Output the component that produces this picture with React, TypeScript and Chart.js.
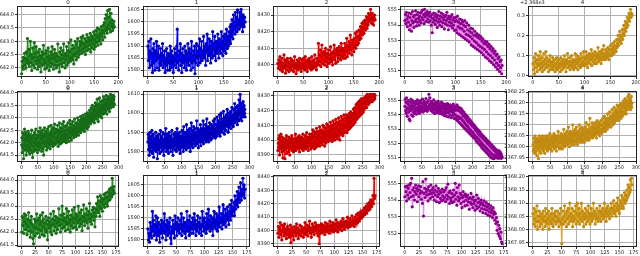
import React, { useEffect, useRef } from 'react';
import { Chart, registerables } from 'chart.js';
Chart.register(...registerables);

// ---------- tick labels ----------
const titles = ['0', '1', '2', '3', '4'];
const xTicksRow0 = [0, 50, 100, 150, 200];
const xTicksRow1 = [0, 50, 100, 150, 200, 250, 300];
const xTicksRow2 = [0, 25, 50, 75, 100, 125, 150, 175];

const yTicksGreenA = [642, 642.5, 643, 643.5, 644];
const yTicksGreenB = [641.5, 642, 642.5, 643, 643.5, 644];
const yTicksBlueA = [1580, 1585, 1590, 1595, 1600, 1605];
const yTicksBlueB = [1580, 1590, 1600, 1610];
const yTicksRedA = [8400, 8410, 8420, 8430];
const yTicksRedB = [8390, 8400, 8410, 8420, 8430];
const yTicksRedC = [8390, 8400, 8410, 8420, 8430, 8440];
const yTicksMagA = [551, 552, 553, 554, 555];
const yTicksMagC = [552, 553, 554, 555];
const yTicksGoldA = [2368.0, 2368.1, 2368.2, 2368.3];
const yTicksGoldB = [2367.95, 2368.0, 2368.05, 2368.1, 2368.15, 2368.2, 2368.25];
const goldOffsetText = '+2.368e3';
const goldOffset = 2368;

// ---------- series values (row 0) ----------
const r0c0 = [
641.78,642.25,642.05,642.4,641.95,642.3,642.55,642.1,642.35,642.0,
642.6,642.2,643.1,642.3,642.15,642.7,642.05,642.45,643.0,642.2,
642.5,641.9,642.35,642.75,642.1,642.4,642.95,642.0,642.55,642.25,
642.8,642.15,642.4,641.95,642.6,642.3,642.05,642.7,642.2,642.45,
641.85,642.35,642.6,642.1,642.5,642.85,642.15,642.3,641.95,642.55,
642.2,642.65,642.0,642.4,642.1,642.75,642.3,641.9,642.45,642.2,
642.6,642.05,642.35,642.8,642.15,642.5,641.95,642.4,642.7,642.1,
642.3,642.55,642.0,642.45,642.25,642.9,642.1,642.4,641.85,642.6,
642.3,642.75,642.15,642.5,642.05,642.65,642.35,642.9,642.2,642.45,
642.0,642.55,642.3,642.8,642.1,642.45,642.65,642.2,642.95,642.35,
642.6,642.25,643.05,642.4,642.7,642.3,642.85,642.5,642.15,642.75,
642.45,643.0,642.55,642.3,642.9,642.6,643.1,642.4,642.75,642.5,
643.0,642.65,642.85,643.15,642.55,642.95,642.7,643.2,642.6,642.9,
642.75,643.1,642.5,643.0,642.8,643.25,642.65,642.95,643.15,642.7,
643.05,642.85,643.3,642.6,643.0,643.2,642.75,643.1,642.9,643.35,
642.7,643.05,643.25,642.8,643.4,642.95,643.15,643.5,642.85,643.2,
643.0,643.45,643.1,643.3,642.9,643.55,643.2,643.4,643.05,643.6,
643.3,643.7,643.15,643.85,643.4,644.0,643.5,643.3,644.15,643.6,
643.9,643.45,644.2,643.7,643.35,644.05,643.55,643.8,643.4,643.65,
643.5,643.75,643.55];

const r0c1 = [
1590,1584,1592,1581,1588,1585,1593,1582,1587,1579,
1589,1583,1591,1586,1580,1588,1584,1592,1581,1587,
1585,1590,1580,1586,1583,1589,1582,1587,1584,1591,
1581,1586,1583,1588,1579,1585,1582,1589,1584,1580,
1587,1583,1586,1580,1590,1584,1581,1588,1583,1586,
1579,1585,1582,1589,1584,1587,1581,1590,1597,1583,
1586,1580,1588,1584,1591,1582,1587,1579,1585,1589,
1583,1586,1581,1590,1584,1588,1580,1587,1583,1591,
1585,1582,1589,1584,1587,1580,1592,1583,1586,1581,
1588,1584,1590,1578.5,1586,1583,1591,1585,1588,1582,
1590,1586,1593,1583,1589,1585,1592,1584,1588,1586,
1594,1585,1590,1587,1582,1591,1588,1595,1584,1589,
1586,1593,1587,1590,1583,1592,1588,1585,1596,1589,
1591,1586,1594,1588,1584,1592,1589,1587,1595,1590,
1585,1593,1588,1591,1587,1596,1589,1592,1586,1594,
1590,1588,1595,1591,1587,1597,1592,1589,1594,1590,
1596,1592,1598,1591,1599,1594,1601,1596,1593,1603,
1597,1600,1595,1604,1598,1602,1596,1605,1599,1601,
1597,1604,1600,1598,1605.3,1599,1602,1596,1603,1600,
1598,1602,1600];

const r0c2 = [
8401,8398,8403,8400,8405,8397,8402,8399,8404,8396,
8401,8398,8406,8399,8403,8395,8400,8402,8397,8404,
8399,8402,8396,8401,8398,8404,8400,8397,8403,8399,
8402,8396,8400,8405,8398,8401,8394.7,8399,8403,8400,
8397,8402,8399,8404,8398,8401,8396,8403,8400,8398,
8404,8399,8401,8397,8405,8400,8398,8402,8396,8403,
8399,8401,8404,8398,8402,8400,8397,8405,8399,8402,
8398,8403,8400,8406,8399,8401,8397,8404,8400,8402,
8413,8400,8406,8402,8409,8399,8405,8412,8401,8407,
8403,8408,8400,8406,8410,8402,8405,8399,8407,8404,
8409,8401,8406,8403,8411,8402,8407,8404,8400,8408,
8405,8412,8403,8407,8401,8409,8406,8410,8402,8408,
8404,8411,8406,8409,8403,8413,8405,8408,8410,8404,
8409,8406,8413,8404,8411,8408,8416,8405,8412,8409,
8414,8407,8411,8418,8409,8413,8406,8415,8410,8412,
8408,8416,8411,8419,8410,8414,8420,8412,8417,8413,
8421,8415,8418,8423,8416,8420,8425,8418,8422,8426,
8419,8424,8427,8421,8425,8429,8422,8428,8424,8431,
8426,8430,8427,8433.5,8428,8425,8431,8427,8429,8424,
8428,8430,8427];

const r0c3 = [
554.3,554.7,554.1,554.85,554.4,553.9,554.6,554.2,554.8,553.7,
554.5,554.0,554.75,553.6,554.3,554.9,554.15,554.55,553.85,554.65,
554.25,554.95,554.4,553.95,554.7,554.2,554.85,554.45,554.0,554.6,
554.3,554.8,554.15,554.9,554.5,555.0,554.35,554.7,554.1,555.05,
554.55,554.8,554.25,554.65,554.9,554.4,554.75,554.2,554.6,554.85,
554.3,554.55,554.0,554.7,553.5,554.45,554.2,554.8,554.35,554.6,
554.05,554.75,554.3,554.5,553.85,554.65,554.2,554.9,554.4,554.0,
554.6,554.25,554.8,553.9,554.5,554.15,554.7,554.35,553.75,554.55,
554.1,554.65,554.3,554.85,554.0,554.45,553.7,554.6,554.2,554.4,
553.95,554.55,554.15,554.7,553.8,554.35,554.0,554.5,553.65,554.25,
554.5,553.7,554.3,553.5,554.6,553.9,554.2,553.4,554.4,553.8,
554.1,553.3,554.35,553.75,554.2,553.2,554.0,553.6,554.3,553.1,
553.9,553.4,554.15,553.0,553.7,553.35,554.0,552.9,553.6,553.25,
553.8,552.7,553.5,553.1,553.75,552.6,553.35,552.95,553.6,552.5,
553.3,552.85,553.45,552.4,553.2,552.7,553.35,552.3,553.1,552.6,
553.25,552.2,552.95,552.5,553.1,552.05,552.8,552.4,552.95,551.9,
552.75,552.25,552.9,551.8,552.6,552.1,552.75,551.65,552.45,552.0,
552.6,551.55,552.3,551.85,552.45,551.4,552.15,551.7,552.3,551.25,
552.0,551.5,552.1,551.1,551.8,551.35,551.9,550.95,551.6,551.2,
551.7,550.8,551.35];

const r0c4 = [
2368.06,2368.03,2368.09,2368.01,2368.07,2368.11,2368.04,2368.08,2368.02,2368.06,
2368.1,2368.05,2368.08,2368.03,2368.12,2368.06,2368.04,2368.09,2368.02,2368.07,
2368.05,2368.11,2368.03,2368.08,2368.06,2368.12,2368.04,2368.09,2368.05,2368.07,
2368.02,2368.08,2368.05,2368.1,2368.03,2368.07,2368.06,2368.04,2368.09,2368.03,
2368.07,2368.05,2368.08,2368.02,2368.06,2368.04,2368.09,2368.03,2368.07,2368.05,
2368.08,2368.04,2368.06,2368.02,2368.09,2368.05,2368.07,2368.03,2368.08,2368.06,
2368.04,2368.1,2368.05,2368.07,2368.02,2368.08,2368.06,2368.11,2368.04,2368.07,
2368.05,2368.09,2368.03,2368.07,2368.05,2368.1,2368.06,2368.04,2368.08,2368.03,
2368.07,2368.05,2368.11,2368.04,2368.08,2368.06,2368.1,2368.03,2368.07,2368.09,
2368.05,2368.08,2368.04,2368.11,2368.06,2368.09,2368.05,2368.07,2368.12,2368.06,
2368.09,2368.05,2368.08,2368.12,2368.06,2368.1,2368.04,2368.09,2368.07,2368.11,
2368.06,2368.1,2368.08,2368.13,2368.05,2368.09,2368.11,2368.07,2368.1,2368.06,
2368.12,2368.08,2368.1,2368.06,2368.11,2368.09,2368.14,2368.07,2368.1,2368.08,
2368.12,2368.09,2368.06,2368.11,2368.13,2368.08,2368.1,2368.15,2368.09,2368.11,
2368.08,2368.13,2368.1,2368.12,2368.09,2368.14,2368.11,2368.08,2368.13,2368.1,
2368.15,2368.11,2368.13,2368.1,2368.16,2368.12,2368.14,2368.11,2368.17,2368.13,
2368.15,2368.12,2368.18,2368.14,2368.16,2368.2,2368.15,2368.18,2368.22,2368.17,
2368.2,2368.16,2368.19,2368.23,2368.18,2368.21,2368.25,2368.2,2368.23,2368.27,
2368.22,2368.26,2368.24,2368.29,2368.25,2368.28,2368.31,2368.27,2368.3,2368.33,
2368.29,2368.31,2368.3];

// ---------- series values (row 1) ----------
const r1c0 = [
641.9,642.2,641.6,642.4,641.8,642.1,641.35,642.3,641.95,642.55,
641.7,642.15,641.85,642.4,641.5,642.05,642.3,641.75,642.2,641.9,
642.45,641.65,642.1,641.8,642.35,641.55,642.0,642.25,641.7,642.15,
641.9,642.5,641.6,642.05,641.4,642.2,641.85,642.3,641.65,642.0,
642.4,641.75,642.15,641.9,642.55,641.7,642.1,641.95,642.3,641.6,
642.2,641.85,642.45,642.0,641.7,642.3,641.9,642.6,641.8,642.15,
641.95,642.4,641.65,642.25,642.05,642.5,641.75,642.2,641.5,642.35,
642.0,642.6,641.85,642.25,641.95,642.45,642.1,641.7,642.35,642.05,
642.55,641.8,642.2,642.0,642.65,641.9,642.3,642.1,641.75,642.4,
642.15,642.7,641.95,642.3,642.05,642.5,641.85,642.25,642.6,642.0,
642.35,641.9,642.75,642.15,642.4,641.95,642.55,642.2,642.0,642.45,
642.1,642.7,642.25,641.85,642.5,642.05,642.35,642.8,642.15,642.4,
641.95,642.6,642.2,642.45,642.0,642.75,642.3,642.1,642.55,642.25,
642.85,642.05,642.4,642.2,642.65,642.1,642.5,642.3,642.0,642.7,
642.35,642.55,642.15,642.8,642.25,642.45,642.05,642.6,642.4,642.9,
642.2,642.5,642.35,642.75,642.1,642.6,642.45,642.3,642.85,642.4,
642.55,642.2,642.7,642.45,642.95,642.3,642.6,642.5,642.25,642.8,
642.4,642.65,642.35,643.0,642.5,642.75,642.3,642.6,642.9,642.45,
642.7,642.55,643.05,642.4,642.8,642.6,642.95,642.5,642.75,643.1,
642.55,642.85,642.65,643.0,642.45,642.9,642.7,643.15,642.6,642.8,
643.05,642.7,642.95,642.55,643.2,642.85,643.1,642.65,643.0,642.8,
643.3,642.9,643.15,642.75,643.05,643.4,642.95,643.2,642.85,643.5,
643.1,642.9,643.35,643.0,643.25,642.8,643.45,643.15,643.6,643.05,
643.3,642.95,643.5,643.2,643.75,643.1,643.4,642.85,643.25,643.55,
643.15,643.8,643.3,643.05,643.45,643.2,643.65,643.35,643.0,643.5,
643.25,643.7,643.4,643.15,643.85,643.35,643.55,643.2,643.75,643.45,
643.6,643.3,643.9,643.5,643.15,643.7,643.45,643.8,643.35,643.6,
643.85,643.5,643.25,643.75,643.55,643.95,643.4,643.7,643.6,643.9,
643.5,643.8,643.65,643.9,643.45,643.75,643.85,643.55];

const r1c1 = [
1585,1589,1581,1587,1578,1584,1590,1582,1586,1580,
1588,1583,1591,1579,1585,1582,1589,1577,1584,1587,
1581,1586,1583,1590,1580,1585,1588,1582,1576.2,1584,
1587,1581,1589,1583,1586,1579,1585,1591,1582,1588,
1580,1584,1587,1583,1590,1581,1586,1578,1585,1589,
1582,1587,1584,1592,1580,1586,1583,1589,1581,1585,
1588,1579,1584,1590,1582,1586,1583,1588,1580,1587,
1584,1591,1582,1586,1578,1585,1589,1583,1587,1581,
1586,1590,1583,1588,1580,1585,1592,1582,1587,1584,
1589,1581,1586,1583,1590,1579,1585,1588,1582,1587,
1584,1591,1583,1588,1580,1586,1593,1582,1587,1585,
1590,1583,1588,1581,1594,1585,1589,1583,1587,1591,
1582,1588,1584,1592,1586,1580,1589,1585,1595,1583,
1588,1586,1591,1582,1587,1593,1584,1589,1586,1592,
1583,1588,1590,1585,1596,1584,1589,1587,1592,1582,
1588,1591,1585,1590,1586,1594,1583,1589,1587,1592,
1585,1590,1588,1596,1584,1589,1592,1586,1591,1588,
1594,1585,1590,1587,1597,1586,1591,1589,1593,1585,
1590,1588,1595,1587,1592,1590,1586,1594,1589,1592,
1587,1593,1590,1596,1588,1592,1589,1597,1591,1587,
1594,1590,1592,1588,1598,1591,1594,1589,1596,1592,
1590,1599,1593,1588,1595,1592,1600,1591,1594,1597,
1590,1596,1593,1601,1592,1595,1589,1598,1594,1596,
1591,1599,1594,1597,1602,1593,1596,1590,1598,1595,
1600,1593,1597,1595,1601,1592,1598,1596,1603,1594,
1597,1599,1593,1602,1596,1599,1605,1595,1600,1597,
1603,1596,1599,1601,1594,1604,1598,1600,1596,1607,
1599,1602,1609.9,1597,1601,1599,1605,1596,1603,1600,
1598,1606,1601,1599,1604,1600,1602,1598];

const r1c2 = [
8393,8398,8401,8395,8403,8390,8397,8400,8394,8404,
8396,8399,8392,8402,8397,8388,8395,8400,8393,8398,
8401,8387.4,8396,8399,8394,8403,8391,8397,8400,8395,
8398,8392,8402,8396,8399,8390,8397,8401,8394,8398,
8395,8403,8393,8399,8396,8401,8392,8398,8400,8394,
8399,8396,8404,8393,8398,8401,8395,8400,8397,8402,
8394,8399,8396,8403,8392,8398,8401,8395,8400,8397,
8402,8394,8399,8396,8404,8393,8398,8401,8395,8400,
8397,8403,8394,8399,8396,8405,8395,8400,8398,8402,
8393,8399,8401,8396,8404,8397,8400,8394,8402,8398,
8404,8395,8401,8407,8396,8403,8398,8406,8394,8402,
8399,8405,8395,8402,8408,8397,8404,8396,8401,8406,
8397,8403,8399,8409,8396,8405,8400,8407,8398,8402,
8406,8397,8404,8410,8399,8403,8401,8409,8396,8405,
8402,8408,8398,8404,8411,8400,8406,8403,8410,8399,
8405,8409,8401,8407,8403,8412,8400,8406,8402,8410,
8399,8408,8404,8413,8401,8407,8403,8411,8400,8409,
8405,8414,8402,8408,8404,8412,8401,8410,8406,8415,
8403,8411,8407,8400,8413,8408,8405,8416,8404,8410,
8407,8414,8403,8411,8408,8417,8405,8410,8409,8415,
8406,8413,8409,8417,8405,8412,8410,8416,8407,8414,
8411,8418,8408,8415,8412,8419,8409,8416,8413,8418,
8410,8417,8414,8421,8411,8418,8415,8422,8412,8419,
8417,8424,8414,8421,8418,8425,8415,8422,8419,8426,
8416,8423,8420,8427,8417,8424,8421,8428,8418,8425,
8422,8427,8419,8424,8428,8421,8425,8429,8422,8426,
8425,8430,8422,8428,8431,8426,8429,8424,8430,8427,
8425,8431,8428,8426,8430,8427,8431,8429,8426,8430,
8428,8431,8427,8430,8429,8431,8428,8430];

const r1c3 = [
554.6,555.1,554.3,554.9,554.1,555.2,554.5,553.9,554.8,554.4,
555.0,554.2,554.7,553.7,554.5,553.6,554.9,554.3,555.1,554.6,
554.0,554.8,554.4,555.0,553.9,554.6,554.2,554.85,554.45,554.1,
554.7,554.3,554.95,554.5,554.05,554.8,554.35,555.05,554.55,554.2,
554.75,554.4,554.9,554.1,554.6,554.3,555.0,554.5,554.85,554.25,
554.65,554.4,555.1,554.55,554.2,554.8,554.45,554.95,554.6,554.3,
554.75,554.5,555.15,554.35,554.85,554.6,554.25,554.9,554.5,555.0,
554.4,555.45,554.7,554.55,555.2,554.45,554.8,554.3,554.95,554.6,
554.4,554.85,554.2,554.75,554.5,555.05,554.35,554.65,554.1,554.8,
554.45,554.9,554.3,554.7,554.55,554.15,554.85,554.4,554.95,554.6,
554.25,554.7,554.5,554.1,554.8,554.35,554.6,554.2,554.9,554.45,
554.05,554.65,554.4,554.8,554.2,554.55,553.95,554.7,554.35,554.5,
554.1,554.75,554.3,553.9,554.6,554.4,554.8,554.15,554.5,553.85,
554.65,554.25,554.45,554.0,554.7,554.3,554.55,553.8,554.4,554.2,
554.6,553.95,554.35,554.75,554.1,554.5,553.75,554.3,554.55,554.0,
554.6,553.7,554.4,553.85,554.7,553.6,554.3,553.9,554.55,553.5,
554.35,553.75,554.5,553.4,554.2,553.8,554.45,553.3,554.1,553.65,
554.3,553.2,553.95,553.55,554.2,553.1,553.85,553.4,554.05,553.0,
553.75,553.3,553.95,552.9,553.6,553.2,553.85,552.8,553.5,553.05,
553.7,552.7,553.4,552.95,553.6,552.6,553.3,552.85,553.45,552.5,
553.2,552.75,553.35,552.4,553.1,552.6,553.25,552.3,552.95,552.5,
553.1,552.15,552.85,552.4,553.0,552.05,552.7,552.3,552.9,551.95,
552.6,552.2,552.8,551.85,552.5,552.05,552.65,551.7,552.4,551.95,
552.55,551.6,552.3,551.85,552.45,551.5,552.2,551.75,552.35,551.4,
552.1,551.65,552.25,551.3,552.0,551.55,552.15,551.2,551.9,551.45,
552.05,551.1,551.8,551.35,551.95,551.0,551.7,551.25,551.85,550.95,
551.6,551.2,551.75,550.92,551.5,551.1,551.65,551.0,551.4,551.15,
551.55,551.0,551.3,551.45,551.05,551.35,550.95,551.5,551.1,551.25,
551.0,551.4,551.05,551.3,550.95,551.2,551.1,551.0];

const r1c4 = [
2368.01,2367.98,2368.04,2367.99,2368.02,2367.97,2368.05,2368.0,2368.03,2367.98,
2368.02,2367.96,2368.01,2368.04,2367.99,2368.03,2367.945,2368.02,2368.0,2368.05,
2367.98,2368.03,2368.01,2367.97,2368.04,2368.0,2368.02,2367.99,2368.05,2368.01,
2367.98,2368.03,2368.0,2368.04,2367.97,2368.02,2368.01,2368.05,2367.99,2368.03,
2368.0,2368.04,2367.98,2368.02,2368.05,2368.01,2367.99,2368.03,2368.0,2368.06,
2368.02,2367.99,2368.04,2368.01,2368.03,2367.98,2368.05,2368.02,2368.0,2368.04,
2368.01,2368.06,2367.99,2368.03,2368.02,2368.05,2368.0,2368.04,2367.98,2368.03,
2368.05,2368.01,2368.03,2368.07,2368.0,2368.04,2368.02,2367.99,2368.05,2368.02,
2368.04,2368.0,2368.06,2368.02,2368.03,2367.99,2368.05,2368.01,2368.04,2368.08,
2368.02,2368.05,2368.0,2368.03,2368.06,2368.01,2368.04,2368.02,2368.07,2368.03,
2368.01,2368.05,2368.02,2368.09,2368.03,2368.06,2368.0,2368.04,2368.02,2368.07,
2368.03,2368.05,2368.01,2368.06,2368.04,2368.1,2368.02,2368.05,2368.03,2368.07,
2368.01,2368.05,2368.08,2368.03,2368.06,2368.02,2368.09,2368.04,2368.05,2368.01,
2368.07,2368.03,2368.06,2368.04,2368.1,2368.02,2368.05,2368.08,2368.03,2368.06,
2368.04,2368.09,2368.02,2368.07,2368.05,2368.03,2368.08,2368.05,2368.06,2368.02,
2368.09,2368.04,2368.07,2368.05,2368.11,2368.03,2368.06,2368.08,2368.04,2368.07,
2368.05,2368.1,2368.03,2368.07,2368.06,2368.13,2368.04,2368.08,2368.06,2368.09,
2368.05,2368.08,2368.11,2368.04,2368.07,2368.09,2368.06,2368.1,2368.05,2368.08,
2368.07,2368.11,2368.06,2368.09,2368.04,2368.08,2368.12,2368.07,2368.1,2368.06,
2368.09,2368.07,2368.11,2368.05,2368.08,2368.1,2368.07,2368.12,2368.08,2368.06,
2368.1,2368.08,2368.13,2368.07,2368.09,2368.11,2368.08,2368.14,2368.09,2368.12,
2368.07,2368.1,2368.13,2368.09,2368.11,2368.08,2368.15,2368.1,2368.12,2368.09,
2368.13,2368.11,2368.16,2368.1,2368.12,2368.14,2368.09,2368.13,2368.11,2368.17,
2368.12,2368.14,2368.1,2368.15,2368.13,2368.18,2368.11,2368.14,2368.12,2368.16,
2368.13,2368.17,2368.12,2368.15,2368.19,2368.13,2368.16,2368.14,2368.18,2368.12,
2368.16,2368.14,2368.19,2368.15,2368.17,2368.13,2368.2,2368.16,2368.18,2368.14,
2368.19,2368.16,2368.21,2368.15,2368.18,2368.2,2368.16,2368.22,2368.17,2368.19,
2368.15,2368.21,2368.18,2368.2,2368.17,2368.23,2368.19,2368.21,2368.24,2368.18,
2368.22,2368.2,2368.17,2368.21,2368.19,2368.23,2368.18,2368.2];

// ---------- series values (row 2) ----------
const r2c0 = [
642.0,642.6,642.25,642.55,641.95,642.7,642.4,642.1,642.65,642.3,
641.9,642.5,642.2,642.75,642.05,642.45,641.8,642.35,642.6,642.0,
642.3,641.75,641.55,642.2,642.5,641.85,642.4,642.15,642.7,641.95,
642.45,642.1,642.55,641.8,642.3,642.65,642.05,642.4,641.9,642.75,
642.2,642.5,641.85,642.35,642.1,642.6,642.0,642.45,641.7,642.3,
642.55,642.15,642.4,642.0,642.7,642.25,641.9,642.5,642.3,642.8,
642.05,642.45,642.2,642.6,641.95,642.35,642.55,642.1,642.4,642.9,
642.25,642.5,642.0,642.65,642.3,643.0,642.15,642.45,642.7,642.2,
642.55,642.05,642.4,642.9,642.3,642.6,642.1,642.8,642.35,642.5,
642.0,642.65,642.25,642.45,642.85,642.15,642.55,642.35,642.95,642.2,
642.5,642.7,642.1,642.6,642.35,643.0,642.45,642.2,642.75,642.5,
642.3,642.85,642.05,642.6,642.4,643.05,642.55,642.25,642.7,642.45,
642.9,642.35,642.65,642.15,642.8,642.5,643.1,642.4,642.7,642.55,
642.3,642.85,642.6,642.95,642.45,642.75,642.2,642.9,642.6,643.1,
642.85,643.35,642.75,643.2,643.0,642.6,643.4,642.9,643.15,643.3,
642.8,643.25,643.05,643.45,642.95,643.3,643.5,643.1,643.35,643.0,
643.55,643.2,643.4,643.65,643.25,643.5,643.7,643.35,644.07,643.45,
643.6,643.75,643.5];

const r2c1 = [
1585,1580,1583,1579,1588,1582,1586,1581,1593,1584,
1589,1582,1587,1583,1591,1580,1586,1590,1582,1588,
1584,1579,1587,1583,1589,1585,1581,1588,1584,1592,
1583,1587,1580,1586,1589,1582,1585,1588,1583,1590,
1581,1578.3,1586,1584,1589,1583,1587,1581,1591,1585,
1588,1582,1586,1590,1584,1587,1583,1589,1585,1592,
1582,1587,1584,1590,1586,1583,1588,1581,1586,1593,
1584,1589,1585,1582,1591,1586,1583,1588,1585,1590,
1583,1587,1592,1585,1589,1582,1587,1584,1591,1586,
1588,1583,1590,1585,1587,1582,1593,1586,1589,1584,
1590,1585,1588,1583,1592,1587,1585,1594,1586,1589,
1584,1591,1587,1585,1590,1582,1588,1593,1586,1589,
1585,1592,1588,1584,1591,1587,1595,1586,1590,1588,
1592,1585,1589,1596,1587,1591,1588,1594,1586,1592,
1589,1595,1590,1587,1593,1596,1589,1592,1598,1591,
1595,1593,1597,1591,1600,1594,1598,1596,1602,1595,
1599,1604,1597,1601,1606,1598,1603,1600,1608,1601,
1605,1599,1603];

const r2c2 = [
8398,8403,8395,8401,8406,8397,8400,8393,8404,8399,
8402,8396,8405,8398,8401,8394,8400,8403,8397,8401,
8395,8399,8404,8391,8398,8402,8396,8400,8393,8403,
8399,8401,8396,8405,8398,8402,8394,8400,8397,8404,
8400,8396,8403,8399,8401,8395,8402,8398,8406,8397,
8401,8399,8404,8396,8403,8400,8407,8398,8402,8395,
8401,8405,8399,8403,8397,8402,8406,8400,8404,8398,
8402,8396,8404,8390.2,8400,8403,8398,8405,8401,8399,
8404,8400,8402,8397,8406,8401,8403,8399,8405,8400,
8403,8398,8407,8401,8404,8400,8402,8406,8399,8404,
8401,8405,8400,8408,8402,8404,8399,8406,8403,8401,
8405,8402,8407,8400,8404,8409,8403,8406,8401,8405,
8407,8403,8405,8410,8402,8406,8404,8409,8403,8407,
8405,8411,8404,8408,8406,8403,8410,8407,8405,8412,
8408,8406,8413,8409,8407,8411,8414,8409,8412,8410,
8415,8411,8413,8417,8412,8415,8418,8413,8416,8420,
8415,8418,8421,8416,8419,8423,8418,8421,8426,8420,
8439,8424,8426];

const r2c3 = [
554.2,554.8,554.5,553.95,554.85,554.3,554.7,554.1,554.9,554.45,
555.0,554.2,555.3,553.6,554.6,554.25,554.75,554.0,554.5,554.9,
554.35,554.7,553.9,554.55,554.85,554.2,554.6,554.4,554.8,554.05,
554.5,553.8,555.1,553.05,554.4,554.7,554.15,555.25,554.5,554.3,
554.65,553.95,554.8,554.35,554.55,554.1,554.9,554.4,554.6,554.2,
554.75,554.45,554.0,554.6,554.3,554.85,553.9,554.5,554.2,554.7,
554.35,553.85,554.55,554.1,554.45,553.95,554.65,554.25,554.0,554.5,
554.15,554.6,553.9,554.75,554.3,554.05,554.95,554.2,554.45,553.8,
554.55,554.1,553.95,554.4,553.85,554.2,554.6,553.9,554.3,555.0,
554.05,554.45,553.7,554.75,554.2,553.95,554.9,554.1,554.4,553.8,
554.3,553.55,554.15,554.5,553.9,554.25,553.65,554.35,554.0,554.2,
553.7,554.3,553.9,554.1,553.45,554.15,553.85,554.4,553.75,554.05,
553.55,554.2,553.8,553.95,553.4,554.0,553.65,554.3,553.5,553.85,
554.1,553.6,553.9,553.35,553.75,554.0,553.5,553.8,553.25,553.7,
553.95,553.45,553.65,553.2,553.85,553.4,553.6,553.1,553.75,553.3,
553.5,553.05,553.65,553.25,553.4,552.95,553.55,553.15,553.3,552.8,
553.2,552.6,552.95,552.2,552.7,552.0,552.5,551.85,552.3,551.7,
552.1,551.5,551.4];

const r2c4 = [
2368.06,2368.02,2368.08,2368.04,2368.01,2368.07,2368.03,2368.09,2368.0,2368.05,
2368.03,2368.07,2368.01,2368.05,2368.02,2368.06,2368.04,2368.0,2368.07,2368.03,
2368.05,2368.01,2368.08,2368.03,2368.06,2368.02,2368.04,2368.07,2368.0,2368.05,
2368.03,2368.06,2368.02,2368.08,2368.04,2368.01,2368.06,2368.03,2368.05,2368.07,
2368.02,2368.05,2368.03,2368.07,2368.04,2368.01,2368.06,2368.03,2368.08,2368.02,
2367.945,2368.04,2368.07,2368.02,2368.05,2368.09,2368.03,2368.06,2368.01,2368.07,
2368.04,2368.08,2368.02,2368.05,2368.1,2368.03,2368.06,2368.04,2368.08,2368.01,
2368.05,2368.03,2368.07,2368.04,2368.09,2368.02,2368.06,2368.1,2368.03,2368.05,
2368.08,2368.02,2368.06,2368.04,2368.1,2368.03,2368.07,2368.05,2368.01,2368.06,
2368.04,2368.08,2368.02,2368.05,2368.07,2368.03,2368.09,2368.04,2368.06,2368.02,
2368.05,2368.08,2368.03,2368.06,2368.04,2368.1,2368.05,2368.07,2368.02,2368.06,
2368.04,2368.08,2368.05,2368.03,2368.07,2368.04,2368.09,2368.06,2368.03,2368.07,
2368.05,2368.08,2368.04,2368.06,2368.1,2368.05,2368.07,2368.03,2368.08,2368.06,
2368.09,2368.05,2368.07,2368.04,2368.08,2368.06,2368.1,2368.05,2368.08,2368.07,
2368.11,2368.06,2368.09,2368.07,2368.05,2368.1,2368.08,2368.12,2368.07,2368.09,
2368.06,2368.11,2368.08,2368.1,2368.13,2368.09,2368.12,2368.08,2368.11,2368.14,
2368.1,2368.13,2368.11,2368.15,2368.12,2368.17,2368.13,2368.16,2368.14,2368.19,
2368.15,2368.195,2368.17];

// ---------- styling / layout ----------
const LINE_COLORS = ['#228b22', '#0000ff', '#ff0000', '#ee82ee', '#daa520'];
const POINT_COLORS = ['#176a17', '#0000b4', '#c40000', '#8b008b', '#c08a12'];
const COL_L = [17, 143, 273, 400, 528];
const COL_R = [119, 250, 380, 507, 637];
const ROW_T = [6, 91, 175];
const ROW_B = [77, 162, 247];
const YW = 32, TP = 10, RP = 9, XH = 16;
const FONT = '"DejaVu Sans", sans-serif';
const FS = 5;

type Panel = {
  values: number[]; col: number; row: number;
  xTicks: number[]; yTicks: number[]; dec: number; offset: number; offsetText: string;
};

const SERIES = [[r0c0, r0c1, r0c2, r0c3, r0c4], [r1c0, r1c1, r1c2, r1c3, r1c4], [r2c0, r2c1, r2c2, r2c3, r2c4]];
const X_TICKS = [xTicksRow0, xTicksRow1, xTicksRow2];
const Y_TICKS = [
  [yTicksGreenA, yTicksBlueA, yTicksRedA, yTicksMagA, yTicksGoldA],
  [yTicksGreenB, yTicksBlueB, yTicksRedB, yTicksMagA, yTicksGoldB],
  [yTicksGreenB, yTicksBlueA, yTicksRedC, yTicksMagC, yTicksGoldB],
];
const DEC = [[1, 0, 0, 0, 1], [1, 0, 0, 0, 2], [1, 0, 0, 0, 2]];

function Sub({ p }: { p: Panel }) {
  const ref = useRef<HTMLCanvasElement>(null);
  const plotW = COL_R[p.col] - COL_L[p.col];
  const plotH = ROW_B[p.row] - ROW_T[p.row];
  const W = YW + plotW + RP;
  const H = TP + plotH + XH;
  useEffect(() => {
    const n = p.values.length;
    const xmin = -0.05 * (n - 1), xmax = 1.05 * (n - 1);
    const dmin = Math.min(...p.values), dmax = Math.max(...p.values);
    const m = (dmax - dmin) * 0.05;
    const ymin = dmin - m, ymax = dmax + m;
    const title = titles[p.col];
    const deco = {
      id: 'deco',
      afterDraw(chart: any) {
        const { ctx, chartArea: a } = chart;
        ctx.save();
        ctx.strokeStyle = '#222';
        ctx.lineWidth = 1;
        ctx.strokeRect(Math.round(a.left) + 0.5, Math.round(a.top) + 0.5, Math.round(a.right - a.left) - 1, Math.round(a.bottom - a.top) - 1);
        ctx.fillStyle = '#222';
        ctx.font = `${FS + 0.5}px ${FONT}`;
        ctx.textAlign = 'center';
        ctx.textBaseline = 'bottom';
        ctx.fillText(title, (a.left + a.right) / 2, a.top - 1);
        ctx.textBaseline = 'top';
        ctx.fillText(title, (a.left + a.right) / 2, a.bottom + 9);
        if (p.offsetText) {
          ctx.font = `${FS}px ${FONT}`;
          ctx.textAlign = 'left';
          ctx.textBaseline = 'bottom';
          ctx.fillText(p.offsetText, a.left - 8, a.top - 1);
        }
        ctx.restore();
      },
    };
    const chart = new Chart(ref.current!, {
      type: 'line',
      data: {
        datasets: [{
          data: p.values.map((v, i) => ({ x: i, y: v })),
          borderColor: LINE_COLORS[p.col],
          borderWidth: 1.2,
          pointRadius: 1.6,
          pointBackgroundColor: POINT_COLORS[p.col],
          pointBorderColor: POINT_COLORS[p.col],
          pointBorderWidth: 0,
          tension: 0,
        }],
      },
      options: {
        responsive: false,
        animation: false,
        devicePixelRatio: 1,
        layout: { padding: { top: TP, right: RP, left: 0, bottom: 0 } },
        plugins: { legend: { display: false }, tooltip: { enabled: false }, title: { display: false } },
        scales: {
          x: {
            type: 'linear', min: xmin, max: xmax, bounds: 'data',
            afterBuildTicks: (s: any) => { s.ticks = p.xTicks.filter(v => v >= xmin - 1e-9 && v <= xmax + 1e-9).map(v => ({ value: v })); },
            afterFit: (s: any) => { s.height = XH; },
            grid: { color: '#b0b0b0', lineWidth: 1, tickLength: 2, tickColor: '#333' },
            border: { display: false },
            ticks: { font: { size: FS, family: FONT }, color: '#222', padding: 1, maxRotation: 0, autoSkip: false, callback: (v: any) => String(v) },
          },
          y: {
            type: 'linear', min: ymin, max: ymax, bounds: 'data',
            afterBuildTicks: (s: any) => { s.ticks = p.yTicks.filter(v => v >= ymin - 1e-9 && v <= ymax + 1e-9).map(v => ({ value: v })); },
            afterFit: (s: any) => { s.width = YW; },
            grid: { color: '#b0b0b0', lineWidth: 1, tickLength: 2, tickColor: '#333' },
            border: { display: false },
            ticks: { font: { size: FS, family: FONT }, color: '#222', padding: 1, autoSkip: false, callback: (v: any) => (Number(v) - p.offset).toFixed(p.dec) },
          },
        },
      } as any,
      plugins: [deco],
    });
    return () => chart.destroy();
  }, [p]);
  return (
    <canvas
      ref={ref}
      width={W}
      height={H}
      style={{ position: 'absolute', left: COL_L[p.col] - YW, top: ROW_T[p.row] - TP, width: W, height: H }}
    />
  );
}

const PANELS: Panel[] = [];
for (let r = 0; r < 3; r++) {
  for (let c = 0; c < 5; c++) {
    const gold0 = r === 0 && c === 4;
    PANELS.push({
      values: SERIES[r][c], col: c, row: r,
      xTicks: X_TICKS[r], yTicks: Y_TICKS[r][c], dec: DEC[r][c],
      offset: gold0 ? goldOffset : 0, offsetText: gold0 ? goldOffsetText : '',
    });
  }
}

export default function App() {
  return (
    <div style={{ position: 'fixed', left: 0, top: 0, width: 640, height: 256, overflow: 'hidden', background: '#fff' }}>
      {PANELS.map((p, i) => <Sub key={i} p={p} />)}
    </div>
  );
}
